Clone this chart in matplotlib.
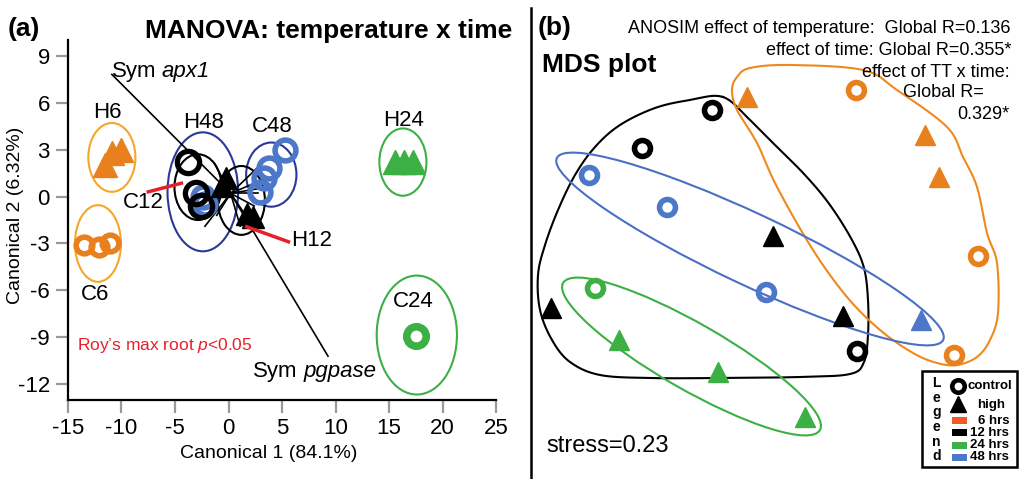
import matplotlib
matplotlib.use('Agg')
import matplotlib.pyplot as plt
from matplotlib.patches import Ellipse, Rectangle
from matplotlib.lines import Line2D
import numpy as np

plt.rcParams['font.family'] = ['Liberation Sans', 'DejaVu Sans']
plt.rcParams['axes.unicode_minus'] = False
plt.rcParams['mathtext.fontset'] = 'custom'
plt.rcParams['mathtext.rm'] = 'Liberation Sans'
plt.rcParams['mathtext.it'] = 'Liberation Sans:italic'

# ===== Panel (a): canonical scores =====
h6_x, h6_y = [-11.5, -10.9, -10.0], [2.0, 2.8, 3.0]
c6_x, c6_y = [-13.5, -12.1, -11.1], [-3.1, -3.2, -3.0]
h24_x, h24_y = [15.6, 16.4, 17.2], [2.2, 2.2, 2.2]
c24_x, c24_y = [17.5], [-8.9]
c48_x, c48_y = [5.3, 3.8, 3.3, 2.9], [3.0, 1.8, 1.2, 0.3]
h48_x, h48_y = [-2.4, -2.2], [0.0, -0.5]
c12_x, c12_y = [-3.8, -3.0, -2.6], [2.2, 0.2, -0.6]
h12_x, h12_y = [-0.6, -0.2, 1.7, 2.3], [0.7, 1.2, -1.1, -1.3]

# 95% confidence ellipses
ell_name = ['H6', 'C6', 'H24', 'C24', 'H48', 'C48', 'C12', 'H12']
ell_cx = [-10.9, -12.2, 16.3, 17.6, -2.4, 4.0, -2.85, 1.2]
ell_cy = [2.5, -3.0, 2.2, -8.85, 0.3, 1.4, 0.6, -0.25]
ell_w = [4.4, 4.3, 4.4, 7.5, 6.6, 4.7, 4.4, 4.4]
ell_h = [4.4, 4.9, 4.3, 7.6, 7.6, 4.1, 4.2, 4.4]

# biplot rays (gene vectors)
ray_x = [-10.9, 9.3, 3.6, 3.6, 2.8, 3.1, 2.4, -2.2, -1.1, 1.1, -1.3, 2.0]
ray_y = [7.8, -10.2, 1.2, 0.6, 0.2, 2.1, -0.6, -1.9, -1.2, -1.9, 2.1, -1.6]
ray_origin = (0.2, 0.2)

xticks = [-15, -10, -5, 0, 5, 10, 15, 20, 25]
yticks = [-12, -9, -6, -3, 0, 3, 6, 9]

# ===== Panel (b): MDS coordinates =====
mds = {
    ('6', 'tri'): ([-0.33, 1.45, 1.59], [1.43, 1.05, 0.63]),
    ('6', 'ring'): ([0.76, 1.98, 1.74], [1.50, -0.16, -1.15]),
    ('12', 'ring'): ([-0.68, -1.38, 0.77], [1.30, 0.92, -1.11]),
    ('12', 'tri'): ([-0.07, -2.29, 0.63], [0.04, -0.68, -0.76]),
    ('48', 'ring'): ([-1.91, -1.13, -0.14], [0.65, 0.33, -0.52]),
    ('48', 'tri'): ([1.41], [-0.80]),
    ('24', 'ring'): ([-1.85], [-0.48]),
    ('24', 'tri'): ([-1.61, -0.62, 0.25], [-1.00, -1.32, -1.77]),
}

hull12_x = [-0.57, -0.90, -1.25, -1.60, -1.85, -2.05, -2.22, -2.35, -2.42, -2.40, -2.28, -2.10, -1.80,
            -1.30, -0.60, 0.20, 0.70, 0.84, 0.88, 0.88, 0.84, 0.72, 0.50, 0.25, -0.05, -0.30]
hull12_y = [1.43, 1.40, 1.32, 1.15, 0.93, 0.65, 0.30, -0.05, -0.35, -0.70, -1.00, -1.22, -1.35,
            -1.38, -1.38, -1.37, -1.34, -1.22, -0.95, -0.60, -0.28, 0.00, 0.35, 0.65, 0.95, 1.20]
hull6_x = [-0.30, 0.10, 0.83, 1.17, 1.67, 1.83, 1.97, 2.07, 2.17, 2.18, 2.10, 1.97, 1.77, 1.57,
           1.33, 1.00, 0.67, 0.33, -0.03, -0.23, -0.43, -0.48, -0.43]
hull6_y = [1.72, 1.75, 1.70, 1.50, 1.13, 0.83, 0.53, 0.07, -0.23, -0.73, -1.00, -1.17, -1.25, -1.23,
           -1.13, -0.90, -0.57, -0.10, 0.53, 0.97, 1.30, 1.50, 1.63]
# (cx, cy, width, height, angle)
ell48 = (-0.30, -0.09, 4.27, 0.71, -25.2)
ell24 = (-0.885, -1.165, 2.96, 0.66, -29.8)

# ===== Colours =====
c_orange = '#E8801E'
c_orange_l = '#F6A62A'
c_orange_h = '#F0891C'
c_green = '#3CB044'
c_blue = '#4D78C9'
c_blue_d = '#2B3896'
c_blue_e = '#4A6FC4'
c_red = '#E8202A'
time_col = {'6': c_orange, '12': 'black', '24': c_green, '48': c_blue}

W, H = 1024, 479
fig = plt.figure(figsize=(W / 100, H / 100), dpi=100)


def fx(px):
    return px / W


def fy(py):
    return 1 - py / H


def smooth_closed(xs, ys, n=20):
    """closed Catmull-Rom curve through the hull vertices"""
    pts = np.column_stack([xs, ys])
    m = len(pts)
    t = np.linspace(0, 1, n, endpoint=False)[:, None]
    out = []
    for i in range(m):
        p0, p1, p2, p3 = pts[(i - 1) % m], pts[i], pts[(i + 1) % m], pts[(i + 2) % m]
        out.append(0.5 * (2 * p1 + (-p0 + p2) * t + (2 * p0 - 5 * p1 + 4 * p2 - p3) * t ** 2
                          + (-p0 + 3 * p1 - 3 * p2 + p3) * t ** 3))
    out = np.vstack(out)
    return np.vstack([out, out[:1]])


# ===================== Panel (a) =====================
ax = fig.add_axes([fx(68), fy(400), 428 / W, 360 / H])
ax.set_xlim(-15, 25)
ax.set_ylim(-13, 10)
for s in ['top', 'right']:
    ax.spines[s].set_visible(False)
for s in ['left', 'bottom']:
    ax.spines[s].set_linewidth(1.6)
ax.set_xticks(xticks)
ax.set_yticks(yticks)
ax.tick_params(direction='out', length=9, width=1.6, color='#999999', labelsize=16, pad=4)

ell_col = {'H6': c_orange_l, 'C6': c_orange_l, 'H24': c_green, 'C24': c_green,
           'H48': c_blue_d, 'C48': c_blue_d, 'C12': 'black', 'H12': 'black'}
for nm, cx, cy, w, h in zip(ell_name, ell_cx, ell_cy, ell_w, ell_h):
    ax.add_patch(Ellipse((cx, cy), w, h, facecolor='none', edgecolor=ell_col[nm], lw=1.5, zorder=2))

for rx, ry in zip(ray_x, ray_y):
    ax.plot([ray_origin[0], rx], [ray_origin[1], ry], color='black', lw=1.2, zorder=3)

ax.plot(h48_x, h48_y, 'o', ms=15, mfc='none', mec=c_blue, mew=4, zorder=4)
ax.plot(c48_x, c48_y, 'o', ms=15, mfc='none', mec=c_blue, mew=4, zorder=4)
ax.plot(c12_x, c12_y, 'o', ms=16, mfc='none', mec='black', mew=3.8, zorder=5)
ax.plot(h12_x, h12_y, '^', ms=16, color='black', zorder=5)
ax.plot(h6_x, h6_y, '^', ms=17, color=c_orange, zorder=4)
ax.plot(c6_x, c6_y, 'o', ms=12, mfc='none', mec=c_orange, mew=4, zorder=4)
ax.plot(h24_x, h24_y, '^', ms=17, color=c_green, zorder=4)
ax.plot(c24_x, c24_y, 'o', ms=14, mfc='none', mec=c_green, mew=5.5, zorder=4)

# red leader lines
ax.plot([-7.5, -4.4], [0.3, 0.85], color=c_red, lw=2.5, zorder=6)
ax.plot([1.7, 5.6], [-1.93, -2.89], color=c_red, lw=2.5, zorder=6)

lab = dict(fontsize=16, ha='center', va='center')
ax.text(-11.36, 5.34, 'H6', **lab)
ax.text(-2.29, 4.70, 'H48', **lab)
ax.text(4.07, 4.50, 'C48', **lab)
ax.text(16.4, 4.83, 'H24', **lab)
ax.text(-12.5, -6.29, 'C6', **lab)
ax.text(17.3, -6.72, 'C24', **lab)
ax.text(-8.0, -0.41, 'C12', **lab)
ax.text(7.8, -2.78, 'H12', **lab)

# gene labels: plain "Sym" + italic gene name
t_sym = ax.text(-10.9, 8.0, 'Sym', fontsize=16, ha='left', va='center')
ax.annotate('apx1', xy=(1, 0), xycoords=t_sym, xytext=(4, 0), textcoords='offset points',
            fontsize=16, style='italic', ha='left', va='bottom')
t_pg = ax.text(13.8, -11.2, 'pgpase', fontsize=16, style='italic', ha='right', va='center')
ax.annotate('Sym', xy=(0, 0), xycoords=t_pg, xytext=(-4, 0), textcoords='offset points',
            fontsize=16, ha='right', va='bottom')

ax.text(-14.16, -9.5, 'Roy\u2019s max root $\\it{p}$<0.05', fontsize=12.5, color=c_red,
        ha='left', va='center')

fig.text(fx(16), fy(215), 'Canonical 2 (6.32%)', rotation=90, fontsize=14, ha='center', va='center')
fig.text(fx(269), fy(453), 'Canonical 1 (84.1%)', fontsize=14, ha='center', va='center')
fig.text(fx(8), fy(36), '(a)', fontsize=19, fontweight='bold', ha='left', va='baseline')
fig.text(fx(512), fy(38), 'MANOVA: temperature x time', fontsize=19, fontweight='bold',
         ha='right', va='baseline')

# panel separator
fig.add_artist(Line2D([fx(531), fx(531)], [fy(8), 0], color='black', lw=1.8))

# ===================== Panel (b) =====================
ax2 = fig.add_axes([fx(535), 0, (W - 535) / W, 1])
ax2.set_xlim((535 - 780) / 100, (W - 780) / 100)
ax2.set_ylim((240 - H) / 100, 240 / 100)
ax2.axis('off')

hx, hy = smooth_closed(hull12_x, hull12_y).T
ax2.plot(hx, hy, color='black', lw=1.5, zorder=2)
hx, hy = smooth_closed(hull6_x, hull6_y).T
ax2.plot(hx, hy, color=c_orange_h, lw=1.5, zorder=2)
cx, cy, w, h, a = ell48
ax2.add_patch(Ellipse((cx, cy), w, h, angle=a, facecolor='none', edgecolor=c_blue_e, lw=1.5, zorder=2))
cx, cy, w, h, a = ell24
ax2.add_patch(Ellipse((cx, cy), w, h, angle=a, facecolor='none', edgecolor=c_green, lw=1.5, zorder=2))

for (t, kind), (xs, ys) in mds.items():
    if kind == 'ring':
        ax2.plot(xs, ys, 'o', ms=11.5, mfc='none', mec=time_col[t], mew=4, zorder=4)
    else:
        ax2.plot(xs, ys, '^', ms=14, color=time_col[t], zorder=4)


def P(px, py):
    return (px - 780) / 100, (240 - py) / 100


# legend box
x0, y0 = P(921.7, 467)
x1, y1 = P(1017, 371)
ax2.add_patch(Rectangle((x0, y0), x1 - x0, y1 - y0, facecolor='white', edgecolor='black', lw=1.8, zorder=6))
for i, ch in enumerate('Legend'):
    ax2.text(*P(936.7, 383 + 14.7 * i), ch, fontsize=10, fontweight='bold', ha='center', va='center', zorder=7)
ax2.plot(*P(958.3, 386), 'o', ms=9, mfc='none', mec='black', mew=3.3, zorder=7)
ax2.text(*P(967, 386), 'control', fontsize=9.5, fontweight='bold', ha='left', va='center', zorder=7)
ax2.plot(*P(958.3, 404), '^', ms=11, color='black', zorder=7)
ax2.text(*P(976.7, 405), 'high', fontsize=9.5, fontweight='bold', ha='left', va='center', zorder=7)
leg_items = [('6 hrs', '#F05A24'), ('12 hrs', 'black'), ('24 hrs', c_green), ('48 hrs', c_blue)]
for i, (txt, col) in enumerate(leg_items):
    yy = 420.7 + 12.2 * i
    rx, ry = P(951.7, yy + 3.5)
    ax2.add_patch(Rectangle((rx, ry), 0.15, 0.07, facecolor=col, edgecolor='none', zorder=7))
    ax2.text(*P(1009, yy), txt, fontsize=9.5, fontweight='bold', ha='right', va='center', zorder=7)

fig.text(fx(538), fy(35), '(b)', fontsize=19, fontweight='bold', ha='left', va='baseline')
fig.text(fx(541.7), fy(71.7), 'MDS plot', fontsize=19, fontweight='bold', ha='left', va='baseline')
anosim = [('ANOSIM effect of temperature:  Global R=0.136', 1010, 33.3),
          ('effect of time: Global R=0.355*', 1011.7, 55),
          ('effect of TT x time:', 1010, 76.7),
          ('Global R=', 983.3, 97.3),
          ('0.329*', 1010, 119)]
for txt, px, py in anosim:
    fig.text(fx(px), fy(py), txt, fontsize=13, ha='right', va='baseline')
fig.text(fx(546.7), fy(451.7), 'stress=0.23', fontsize=17, ha='left', va='baseline')

plt.savefig('out.png', dpi=100, facecolor='white')
plt.close()
